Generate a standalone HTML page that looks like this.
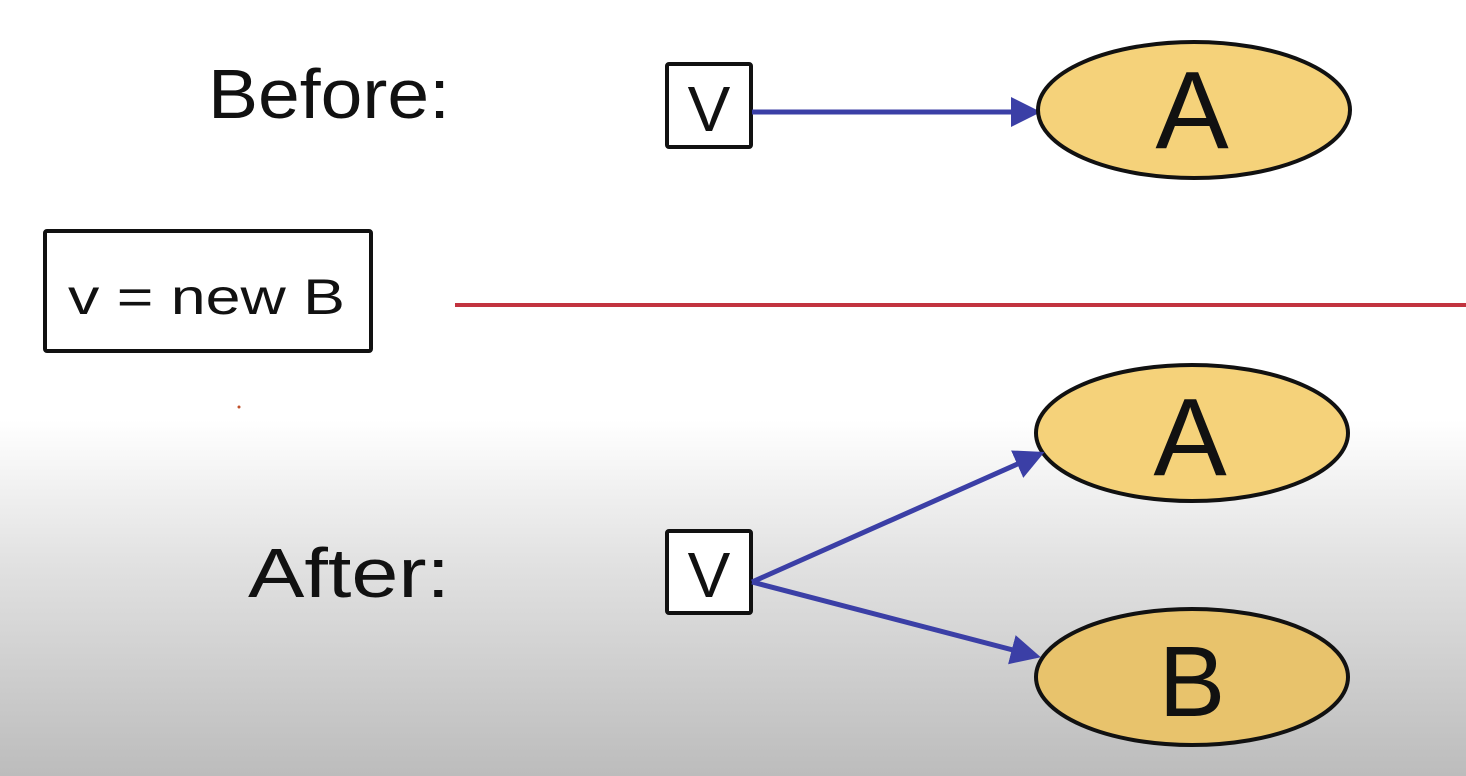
<!DOCTYPE html>
<html><head><style>
html,body{margin:0;padding:0;}
body{width:1466px;height:776px;overflow:hidden;background:linear-gradient(to bottom,#fff 0px,#fff 420px,#e2e2e2 560px,#bcbcbc 776px);}
svg{position:absolute;left:0;top:0;}
text{font-family:"Liberation Sans",sans-serif;fill:#111;}
</style></head><body>
<svg width="1466" height="776" viewBox="0 0 1466 776">
<defs>
<marker id="ah" markerWidth="6" markerHeight="6" refX="5" refY="3" orient="auto" markerUnits="strokeWidth">
<path d="M0,0 L6,3 L0,6 z" fill="#3b3fa6"/>
</marker>
</defs>
<text x="208" y="118" font-size="70" textLength="242" lengthAdjust="spacingAndGlyphs">Before:</text>
<rect x="667" y="64" width="84" height="83" fill="#fff" stroke="#111" stroke-width="4" rx="2"/>
<text x="709" y="131" font-size="64" text-anchor="middle">V</text>
<line x1="752" y1="112" x2="1036" y2="112" stroke="#3b3fa6" stroke-width="5" marker-end="url(#ah)"/>
<ellipse cx="1194" cy="110" rx="156" ry="68" fill="#f5d27a" stroke="#111" stroke-width="4"/>
<text x="1192" y="148" font-size="110" text-anchor="middle">A</text>

<rect x="45" y="231" width="326" height="120" fill="#fff" stroke="#111" stroke-width="4" rx="2"/>
<text x="68" y="314" font-size="50" textLength="277" lengthAdjust="spacingAndGlyphs">v = new B</text>
<line x1="455" y1="305" x2="1466" y2="305" stroke="#c2333f" stroke-width="4"/>
<circle cx="239" cy="407" r="1.5" fill="#c0502a"/>

<ellipse cx="1192" cy="433" rx="156" ry="68" fill="#f5d27a" stroke="#111" stroke-width="4"/>
<text x="1190" y="475" font-size="110" text-anchor="middle">A</text>
<ellipse cx="1192" cy="677" rx="156" ry="68" fill="#e8c36c" stroke="#111" stroke-width="4"/>
<text x="1192" y="716" font-size="100" text-anchor="middle">B</text>

<text x="248" y="597" font-size="70" textLength="202" lengthAdjust="spacingAndGlyphs">After:</text>
<rect x="667" y="531" width="84" height="82" fill="#fff" stroke="#111" stroke-width="4" rx="2"/>
<text x="709" y="597" font-size="64" text-anchor="middle">V</text>
<line x1="752" y1="582" x2="1040" y2="454" stroke="#3b3fa6" stroke-width="5" marker-end="url(#ah)"/>
<line x1="752" y1="582" x2="1036" y2="656" stroke="#3b3fa6" stroke-width="5" marker-end="url(#ah)"/>
</svg>
</body></html>
